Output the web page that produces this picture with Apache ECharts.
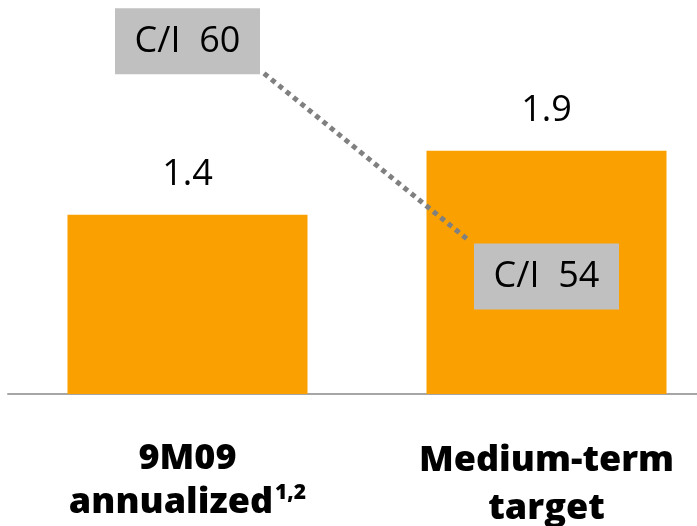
<!DOCTYPE html>
<html>
<head>
<meta charset="utf-8">
<script src="https://cdn.jsdelivr.net/npm/echarts@6/dist/echarts.min.js"></script>
<style>
html,body{margin:0;padding:0;background:#fff;}
#c{width:697px;height:526px;}
</style>
</head>
<body>
<div id="c"></div>
<script>
var categories = ['9M09\nannualized', 'Medium-term\ntarget'];
var values = [1.4, 1.9];
var ciLabels = ['C/I', 'C/I'];
var ciValues = [60, 54];

var chart = echarts.init(document.getElementById('c'));
var FONT = '"Open Sans", "Noto Sans", sans-serif';

chart.setOption({
  animation: false,
  backgroundColor: '#ffffff',
  grid: { left: 8, right: -29, top: 10, bottom: 132, containLabel: false, outerBoundsMode: 'none' },
  xAxis: {
    type: 'category',
    data: categories,
    axisTick: { show: false },
    axisLine: { show: true, lineStyle: { color: '#a6a6a6', width: 2 } },
    axisLabel: {
      margin: 43,
      interval: 0,
      formatter: function (v, i) {
        var parts = v.split('\n');
        if (i === 0) return '{a|' + parts[0] + '}\n{a|' + parts[1] + '}{s|1,2}';
        return '{b|' + parts[0] + '}\n{b|' + parts[1] + '}';
      },
      rich: {
        a: { fontFamily: FONT, fontWeight: 800, fontSize: 36, color: '#000', lineHeight: 44 },
        b: { fontFamily: FONT, fontWeight: 800, fontSize: 36, color: '#000', lineHeight: 48 },
        s: { fontFamily: FONT, fontWeight: 800, fontSize: 21, color: '#000', lineHeight: 44, verticalAlign: 'top', padding: [2, 0, 0, 2] }
      }
    }
  },
  yAxis: [
    { type: 'value', min: 0, max: 3, show: false, splitLine: { show: false } },
    { type: 'value', min: 51, max: 60.8, show: false, splitLine: { show: false } }
  ],
  series: [
    {
      type: 'bar',
      data: values,
      barWidth: 240,
      itemStyle: { color: '#faa000' },
      label: {
        show: true,
        position: 'top',
        distance: 22,
        fontFamily: FONT,
        fontSize: 36,
        color: '#000',
        formatter: function (p) { return p.value.toFixed(1); }
      }
    },
    {
      type: 'custom',
      yAxisIndex: 1,
      z: 10,
      data: ciValues.map(function (v, i) { return [i, v]; }),
      renderItem: function (params, api) {
        var idx = params.dataIndex;
        var p = api.coord([api.value(0), api.value(1)]);
        var w = 145, h = 66;
        var children = [
          {
            type: 'rect',
            shape: { x: p[0] - w / 2, y: p[1] - h / 2, width: w, height: h },
            style: { fill: '#c0c0c0' },
            z2: 2
          },
          {
            type: 'text',
            x: p[0], y: p[1],
            style: {
              text: ciLabels[idx] + '  ' + api.value(1),
              font: '36px ' + FONT,
              fill: '#000',
              align: 'center',
              verticalAlign: 'middle'
            },
            z2: 3
          }
        ];
        if (idx === 0) {
          var q = api.coord([1, ciValues[1]]);
          children.push({
            type: 'line',
            shape: { x1: p[0] + w / 2 + 4, y1: p[1] + h / 2 - 1, x2: q[0] - w / 2 - 4, y2: q[1] - h / 2 - 2 },
            style: { stroke: '#808080', lineWidth: 5, lineDash: [5, 4.5], lineCap: 'butt' },
            z2: 1
          });
        }
        return { type: 'group', children: children };
      }
    }
  ]
});
</script>
</body>
</html>
